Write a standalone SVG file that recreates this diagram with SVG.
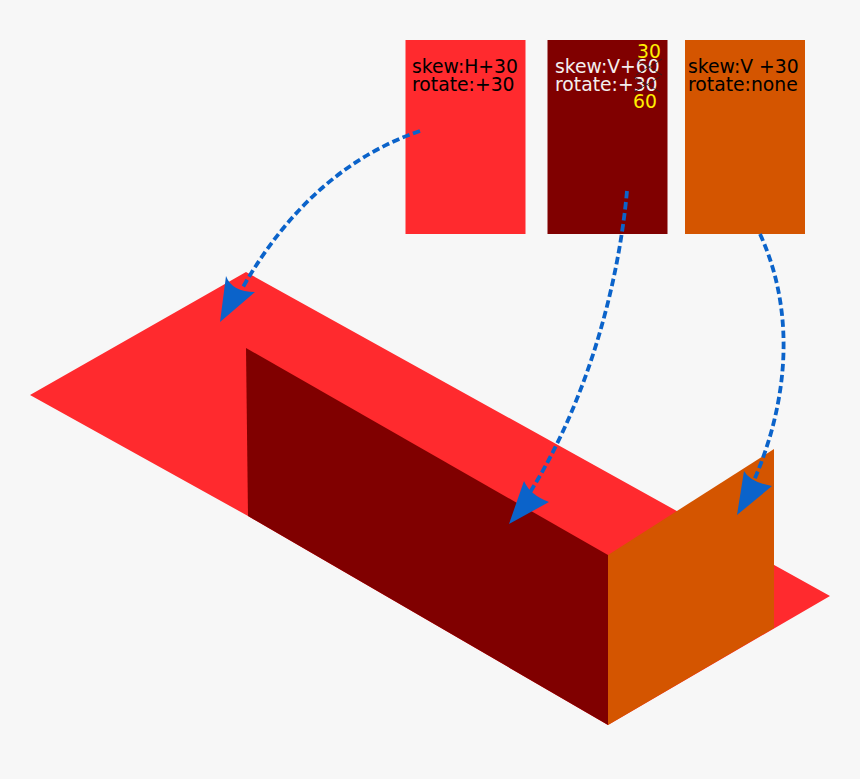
<svg xmlns="http://www.w3.org/2000/svg" width="860" height="779" viewBox="0 0 860 779">
<style>
text{font-family:"DejaVu Sans",sans-serif;font-size:18.8px}
.c{fill:none;stroke:#0b63ca;stroke-width:3.8;stroke-dasharray:7.5 3.6}
.a{fill:#0b63ca}
.x{stroke:#222;stroke-width:.8;fill:none}
</style>
<rect width="860" height="779" fill="#f7f7f7"/>
<g id="surface-top"><polygon points="30,395 246,272 830,596 608,725 248,516" fill="#ff2a2e"/></g>
<g id="surface-left"><polygon points="246,348 608,555 608,725 248,516" fill="#800000"/></g>
<g id="surface-right"><polygon points="608,555 774,449 774,628 608,725" fill="#d45500"/></g>
<g id="card-h"><rect x="405.500" y="40" width="120" height="194" fill="#ff2a2e"/><text x="412" y="73">skew:H+30</text><text x="412" y="91">rotate:+30</text></g>
<g id="card-v"><rect x="547.500" y="40" width="120" height="194" fill="#800000"/><text x="555" y="73" fill="#f4eeee">skew:V+60</text><text x="555" y="91" fill="#f4eeee">rotate:+30</text><text x="637" y="58" fill="#ffee00">30</text><text x="633" y="108" fill="#ffee00">60</text><path class="x" d="M636,59 662,75M636,75 662,59M634,77 660,92M634,92 660,77"/></g>
<g id="card-none"><rect x="685" y="40" width="120" height="194" fill="#d45500"/><text x="688" y="73">skew:V +30</text><text x="688" y="91">rotate:none</text></g>
<g id="connectors">
<path class="c" d="M420,131C350,155 290,205 243,287"/><path class="a" d="M226,276Q232,292 255,292L220,322Z"/>
<path class="c" d="M627,191C617,300 580,415 527,497"/><path class="a" d="M524,481Q530,495 549,502L509,524Z"/>
<path class="c" d="M760,234C795,310 790,400 752,485"/><path class="a" d="M744,471Q750,482 772,486L737,515Z"/>
</g>
</svg>
